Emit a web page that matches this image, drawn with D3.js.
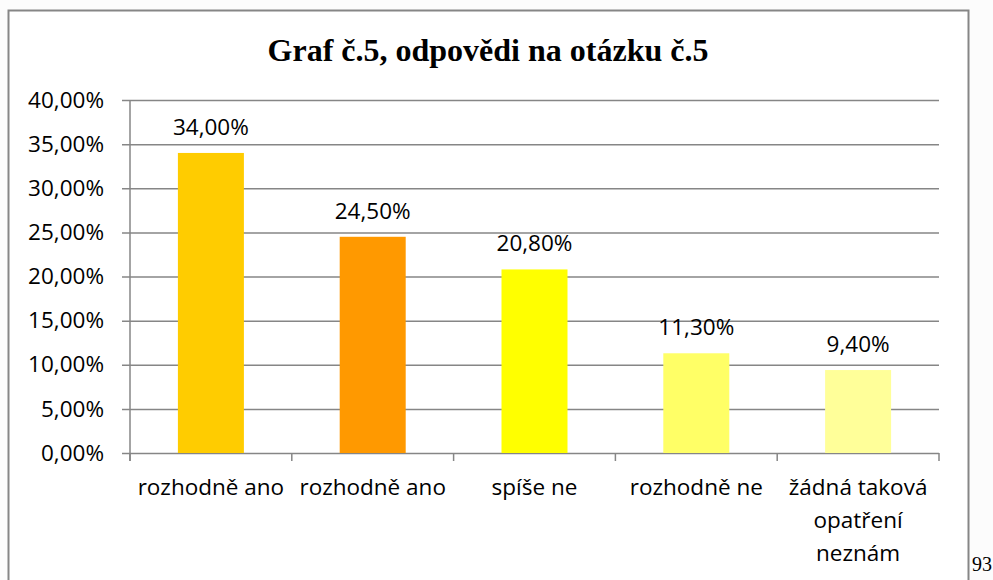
<!DOCTYPE html>
<html>
<head>
<meta charset="utf-8">
<script src="https://cdnjs.cloudflare.com/ajax/libs/d3/7.8.5/d3.min.js"></script>
<style>
  body { margin: 0; background: #fcfcfc; }
</style>
</head>
<body>
<svg id="chart"></svg>
<script>
const categories = ["rozhodně ano", "rozhodně ano", "spíše ne", "rozhodně ne", "žádná taková opatření neznám"];
const values = [34.0, 24.5, 20.8, 11.3, 9.4];
const barColors = ["#ffcc00", "#ff9900", "#ffff00", "#ffff66", "#ffff99"];
const yTicks = [0, 5, 10, 15, 20, 25, 30, 35, 40];
const title = "Graf č.5, odpovědi na otázku č.5";

function drawChart(selector){
  const width = 993, height = 580;
  const margin = { top: 100, bottom: 127, left: 130, right: 54 };
  const labelFont = "'Open Sans', Lato, sans-serif";
  const pct = d => d.toFixed(2).replace(".", ",") + "%";

  const svg = d3.select(selector)
    .attr("width", width)
    .attr("height", height);

  // chart frame
  svg.append("rect")
    .attr("x", 8.5).attr("y", 10.5)
    .attr("width", 960).attr("height", 600)
    .attr("fill", "white")
    .attr("stroke", "#868686")
    .attr("stroke-width", 2);

  svg.append("text")
    .attr("x", 488)
    .attr("y", 61)
    .attr("text-anchor", "middle")
    .attr("font-family", "'Liberation Serif', 'Times New Roman', serif")
    .attr("font-weight", "bold")
    .attr("font-size", "32px")
    .text(title);

  const x = d3.scaleBand()
    .domain(d3.range(categories.length))
    .range([margin.left, width - margin.right])
    .paddingInner(0)
    .paddingOuter(0);

  const y = d3.scaleLinear()
    .domain([0, 40])
    .range([height - margin.bottom, margin.top]);

  // gridlines + y axis
  const yAxis = g => g
    .attr("transform", `translate(${margin.left},0)`)
    .call(d3.axisLeft(y).tickValues(yTicks)
      .tickSize(-(width - margin.left - margin.right))
      .tickSizeOuter(0)
      .tickPadding(26)
      .tickFormat(pct))
    .call(g => g.select(".domain").remove())
    .call(g => g.selectAll(".tick line")
      .attr("x1", -8)
      .attr("stroke", "#868686")
      .attr("stroke-width", 1.5))
    .call(g => g.selectAll(".tick text")
      .attr("font-family", labelFont)
      .attr("font-size", "22.5px")
      .attr("fill", "black"));

  svg.append("g").call(yAxis);

  // vertical axis line
  svg.append("line")
    .attr("x1", margin.left).attr("x2", margin.left)
    .attr("y1", y(40)).attr("y2", y(0) + 8)
    .attr("stroke", "#868686")
    .attr("stroke-width", 1.5);

  // category ticks on x axis
  svg.append("g")
    .selectAll("line")
    .data(d3.range(categories.length + 1))
    .join("line")
      .attr("x1", i => i < categories.length ? x(i) : x(i - 1) + x.bandwidth())
      .attr("x2", i => i < categories.length ? x(i) : x(i - 1) + x.bandwidth())
      .attr("y1", y(0))
      .attr("y2", y(0) + 8)
      .attr("stroke", "#868686")
      .attr("stroke-width", 1.5);

  const barW = 66;
  svg.append("g")
    .selectAll("rect")
    .data(values)
    .join("rect")
      .attr("x", (d, i) => x(i) + x.bandwidth() / 2 - barW / 2)
      .attr("y", d => y(d))
      .attr("width", barW)
      .attr("height", d => y(0) - y(d))
      .attr("fill", (d, i) => barColors[i]);

  // value labels
  svg.append("g")
    .selectAll("text")
    .data(values)
    .join("text")
      .attr("x", (d, i) => x(i) + x.bandwidth() / 2)
      .attr("y", d => y(d) - 18)
      .attr("text-anchor", "middle")
      .attr("font-family", labelFont)
      .attr("font-size", "22.5px")
      .text(pct);

  // category labels, wrapped like the original
  const wrapped = [["rozhodně ano"], ["rozhodně ano"], ["spíše ne"], ["rozhodně ne"], ["žádná taková", "opatření", "neznám"]];
  const cat = svg.append("g")
    .selectAll("text")
    .data(categories)
    .join("text")
      .attr("x", (d, i) => x(i) + x.bandwidth() / 2)
      .attr("y", y(0) + 42)
      .attr("text-anchor", "middle")
      .attr("font-family", labelFont)
      .attr("font-size", "22.5px");
  cat.each(function(d, i){
    d3.select(this).selectAll("tspan")
      .data(wrapped[i])
      .join("tspan")
        .attr("x", x(i) + x.bandwidth() / 2)
        .attr("dy", (t, j) => j === 0 ? 0 : 33)
        .text(t => t);
  });

  // page number
  svg.append("text")
    .attr("x", 972)
    .attr("y", 571)
    .attr("font-family", "'Liberation Serif', serif")
    .attr("font-size", "20px")
    .text("93");
}

drawChart("#chart");
</script>
</body>
</html>
